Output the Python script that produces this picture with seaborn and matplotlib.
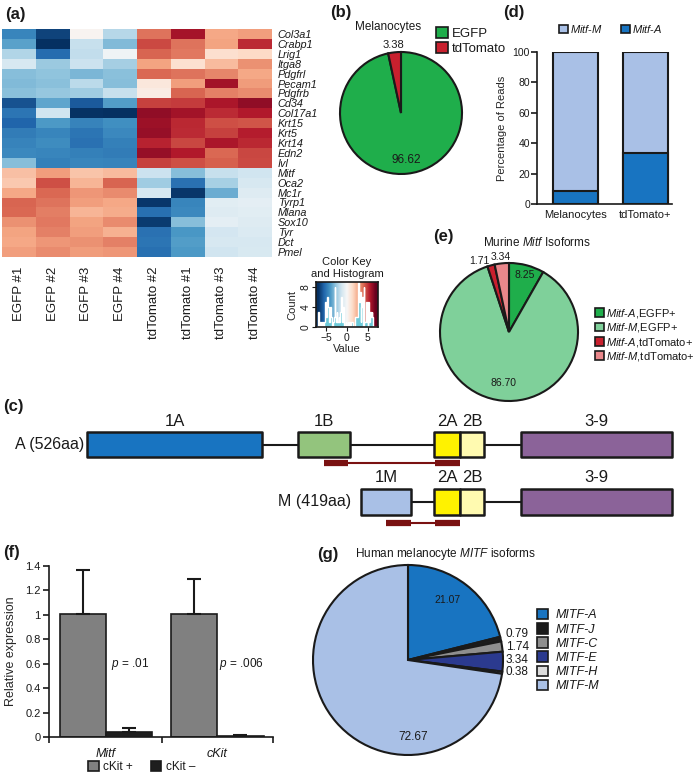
import matplotlib
matplotlib.use("Agg")
import matplotlib.pyplot as plt
import numpy as np
import pandas as pd
import seaborn as sns
from matplotlib.patches import Patch

sns.set_style("ticks")
plt.rcParams['font.family'] = ['Liberation Sans', 'DejaVu Sans']
plt.rcParams['mathtext.fontset'] = 'custom'
plt.rcParams['mathtext.rm'] = 'Liberation Sans'
plt.rcParams['mathtext.it'] = 'Liberation Sans:italic'
plt.rcParams['axes.linewidth'] = 1.2
plt.rcParams['text.color'] = '#1a1a1a'
plt.rcParams['xtick.color'] = '#1a1a1a'
plt.rcParams['ytick.color'] = '#1a1a1a'
plt.rcParams['axes.edgecolor'] = '#1a1a1a'

# ---------------- data ----------------
# (a) heatmap
genes = ["Col3a1", "Crabp1", "Lrig1", "Itga8", "Pdgfrl", "Pecam1", "Pdgfrb",
         "Cd34", "Col17a1", "Krt15", "Krt5", "Krt14", "Edn2", "Ivl",
         "Mitf", "Oca2", "Mc1r", "Tyrp1", "Mlana", "Sox10", "Tyr", "Dct", "Pmel"]
samples = ["EGFP #1", "EGFP #2", "EGFP #3", "EGFP #4",
           "tdTomato #2", "tdTomato #1", "tdTomato #3", "tdTomato #4"]
z_egfp = [
    [-4.6, -6.5, 0.2, -2.0], [-3.8, -7.0, -1.6, -3.1], [-2.1, -5.4, -1.7, -0.3],
    [-1.2, -2.6, -1.5, -2.4], [-3.0, -2.8, -3.2, -2.9], [-3.1, -2.9, -1.9, -3.0],
    [-2.9, -2.7, -2.5, -1.6], [-6.1, -3.7, -5.9, -3.9], [-5.1, -1.4, -6.9, -7.0],
    [-5.6, -4.0, -4.7, -4.3], [-4.9, -4.6, -5.1, -4.5], [-4.7, -4.4, -5.2, -4.8],
    [-4.5, -4.6, -4.8, -4.9], [-3.0, -4.8, -4.6, -4.7],
    [2.1, 2.9, 2.0, 2.2], [1.9, 4.5, 2.4, 4.1], [2.7, 4.0, 3.1, 3.3],
    [4.1, 3.8, 2.9, 2.7], [4.0, 3.6, 2.4, 2.6], [3.2, 3.7, 2.8, 3.3],
    [2.8, 3.5, 2.9, 2.5], [2.7, 3.1, 3.2, 3.5], [2.9, 3.3, 3.0, 3.1],
]
z_tdtomato = [
    [3.8, 5.8, 2.7, 2.9], [4.6, 3.8, 2.8, 5.2], [4.1, 3.7, 1.2, 1.4],
    [2.8, 1.1, 2.2, 3.2], [4.0, 3.8, 3.4, 2.7], [0.8, 2.9, 5.9, 3.0],
    [0.6, 4.1, 3.5, 3.3], [4.8, 4.9, 5.7, 6.2], [6.2, 5.9, 5.2, 5.6],
    [6.0, 5.3, 4.5, 4.4], [6.1, 5.2, 4.8, 5.5], [5.4, 4.7, 5.7, 5.3],
    [6.1, 5.6, 4.0, 4.7], [4.8, 4.5, 4.2, 4.6],
    [-1.5, -3.0, -1.6, -1.4], [-2.5, -5.2, -2.3, -1.2], [-1.2, -6.8, -3.5, -0.9],
    [-6.8, -4.6, -0.8, -0.7], [-5.3, -4.5, -0.9, -0.8], [-6.7, -3.0, -0.7, -0.9],
    [-5.2, -4.1, -1.3, -1.0], [-5.1, -3.9, -1.2, -1.2], [-5.3, -4.0, -1.4, -1.1],
]

# (b) melanocyte pie
mel_labels = ["EGFP", "tdTomato"]
mel_pct = [96.62, 3.38]
mel_colors = ["#1fae4b", "#c9202e"]

# (d) stacked bars
d_groups = ["Melanocytes", "tdTomato+"]
d_mitf_a = [8.69, 33.86]
d_total = [100, 100]

# (e) murine isoforms
e_labels = [r"$\it{Mitf}$-$\it{A}$,EGFP+", r"$\it{Mitf}$-$\it{M}$,EGFP+",
            r"$\it{Mitf}$-$\it{A}$,tdTomato+", r"$\it{Mitf}$-$\it{M}$,tdTomato+"]
e_pct = [8.25, 86.70, 1.71, 3.34]
e_colors = ["#1fae4b", "#7fd09a", "#c9202e", "#e9878b"]

# (c) exon diagram (schematic units)
exons_A = ["1A", "1B", "2A", "2B", "3-9"]
start_A = [0, 211, 347, 373, 434]
end_A = [175, 263, 373, 397, 585]
exons_M = ["1M", "2A", "2B", "3-9"]
start_M = [274, 347, 373, 434]
end_M = [324, 373, 397, 585]
exon_colors = {"1A": "#1874c1", "1B": "#93c47d", "2A": "#fff200",
               "2B": "#fffab0", "3-9": "#8b6399", "1M": "#a9c0e6"}
primer_A = [(237, 261), (348, 373)]
primer_M = [(299, 324), (348, 373)]

# (f) qPCR
f_genes = ["Mitf", "cKit"]
f_pos = [1.01, 1.01]
f_pos_err = [0.36, 0.28]
f_neg = [0.04, 0.01]
f_neg_err = [0.03, 0.004]
f_pvals = ["$\\it{p}$ = .01", "$\\it{p}$ = .006"]

# (g) human isoforms
g_labels = ["MITF-A", "MITF-J", "MITF-C", "MITF-E", "MITF-H", "MITF-M"]
g_pct = [21.07, 0.79, 1.74, 3.34, 0.38, 72.67]
g_colors = ["#1874c1", "#1c1c1c", "#8e8e8e", "#2b3a8f", "#dcdcdc", "#a9c0e6"]

# ---------------- layout helpers ----------------
W, H = 695, 774
fig = plt.figure(figsize=(W / 100, H / 100), dpi=100)


def box(x0, y0, x1, y1):
    return [x0 / W, 1 - y1 / H, (x1 - x0) / W, (y1 - y0) / H]


def ftext(x, y, s, **kw):
    fig.text(x / W, 1 - y / H, s, **kw)


def mid(w, d):
    a = np.deg2rad((w.theta1 + w.theta2) / 2)
    return d * np.cos(a), d * np.sin(a)


edge = '#1a1a1a'

# ---------------- (a) heatmap ----------------
expr = pd.DataFrame(np.hstack([np.array(z_egfp), np.array(z_tdtomato)]),
                    index=genes, columns=samples)
ax_a = fig.add_axes(box(2, 29, 272, 257))
sns.heatmap(expr, cmap="RdBu_r", vmin=-7, vmax=7, cbar=False,
            xticklabels=True, yticklabels=True, ax=ax_a)
ax_a.yaxis.tick_right()
ax_a.set_yticklabels(genes, rotation=0, fontsize=7.8, style='italic')
ax_a.set_xticklabels(samples, rotation=90, fontsize=9.5)
ax_a.tick_params(length=0, pad=4)
ax_a.tick_params(axis='x', pad=7)
ax_a.set_xlabel("")
ax_a.set_ylabel("")
ftext(5, 14, "(a)", fontsize=12, fontweight='bold', va='center')

# colour key + histogram
ax_k = fig.add_axes(box(316, 282, 378, 327))
grad = np.linspace(-7.5, 7.5, 256)[None, :]
ax_k.imshow(grad, cmap="RdBu_r", vmin=-7, vmax=7, aspect='auto',
            extent=(-7.5, 7.5, 0, 9), zorder=0)
ax_k.hist(expr.values.ravel(), bins=np.linspace(-7.5, 7.5, 91),
          histtype='stepfilled', color='#6cc9d8', zorder=2)
ax_k.set_xlim(-7.5, 7.5)
ax_k.set_ylim(0, 9)
ax_k.set_xticks([-5, 0, 5])
ax_k.set_yticks([0, 4, 8])
ax_k.tick_params(labelsize=7.5, length=3, pad=1)
for t in ax_k.get_yticklabels():
    t.set_rotation(90)
    t.set_va('center')
ax_k.set_xlabel("Value", fontsize=8, labelpad=1)
ax_k.set_ylabel("Count", fontsize=8, labelpad=2)
ftext(347, 268, "Color Key\nand Histogram", fontsize=8, ha='center', va='center',
      linespacing=1.3)

# ---------------- (b) pie ----------------
cx, cy, r = 401, 113, 61
ax_b = fig.add_axes(box(cx - r, cy - r, cx + r, cy + r))
wb, _ = ax_b.pie(mel_pct, colors=mel_colors, startangle=90, counterclock=False,
                 wedgeprops=dict(edgecolor=edge, linewidth=1.5, clip_on=False))
ax_b.set_xlim(-1, 1)
ax_b.set_ylim(-1, 1)
x, y = mid(wb[0], 0.78)
ax_b.text(x, y, f"{mel_pct[0]:.2f}", fontsize=8.5, ha='center', va='center')
x, y = mid(wb[1], 1.12)
ax_b.text(x, y, f"{mel_pct[1]:.2f}", fontsize=8, ha='center', va='center')
ftext(330, 12, "(b)", fontsize=12, fontweight='bold', va='center')
ftext(388, 27, "Melanocytes", fontsize=8.5, ha='center', va='center')
hb = [Patch(facecolor=c, edgecolor=edge, linewidth=1.2) for c in mel_colors]
fig.legend(hb, mel_labels, loc='upper left', bbox_to_anchor=(436 / W, 1 - 27 / H),
           frameon=False, fontsize=9.5, handlelength=0.9, handleheight=0.9,
           handletextpad=0.3, labelspacing=0.15, borderpad=0, borderaxespad=0)

# ---------------- (d) stacked bars ----------------
ax_d = fig.add_axes(box(537, 52, 672, 204))
sns.barplot(x=d_groups, y=d_total, color="#a9c0e6", width=0.64, saturation=1,
            edgecolor=edge, linewidth=1.5, ax=ax_d)
sns.barplot(x=d_groups, y=d_mitf_a, color="#1874c1", width=0.64, saturation=1,
            edgecolor=edge, linewidth=1.5, ax=ax_d)
ax_d.set_xlim(-0.55, 1.38)
ax_d.set_ylim(0, 100)
ax_d.set_yticks([0, 20, 40, 60, 80, 100])
ax_d.tick_params(axis='y', labelsize=7.5, length=4, width=1.2, pad=1)
ax_d.tick_params(axis='x', labelsize=8, length=0, pad=4)
ax_d.set_ylabel("Percentage of Reads", fontsize=8, labelpad=4)
sns.despine(ax=ax_d)
for s in ax_d.spines.values():
    s.set_clip_on(False)
ftext(503, 12, "(d)", fontsize=12, fontweight='bold', va='center')
hd = [Patch(facecolor=c, edgecolor=edge, linewidth=1.2) for c in ["#a9c0e6", "#1874c1"]]
fig.legend(hd, [r"$\it{Mitf}$-$\it{M}$", r"$\it{Mitf}$-$\it{A}$"], loc='center left',
           bbox_to_anchor=(559 / W, 1 - 29 / H), ncol=2, frameon=False, fontsize=8,
           handlelength=0.8, handleheight=0.8, handletextpad=0.2, columnspacing=1.6,
           borderpad=0, borderaxespad=0)

# ---------------- (e) pie ----------------
cx, cy, r = 509, 332, 69
ax_e = fig.add_axes(box(cx - r, cy - r, cx + r, cy + r))
we, _ = ax_e.pie(e_pct, colors=e_colors, startangle=90, counterclock=False,
                 wedgeprops=dict(edgecolor=edge, linewidth=1.5, clip_on=False))
ax_e.set_xlim(-1, 1)
ax_e.set_ylim(-1, 1)
x, y = mid(we[0], 0.86)
ax_e.text(x, y, f"{e_pct[0]:.2f}", fontsize=7.5, ha='center', va='center')
x, y = mid(we[1], 0.75)
ax_e.text(x, y, f"{e_pct[1]:.2f}", fontsize=7.5, ha='center', va='center')
x, y = mid(we[2], 1.06)
ax_e.text(x, y, f"{e_pct[2]:.2f}", fontsize=7.5, ha='right', va='center')
x, y = mid(we[3], 1.1)
ax_e.text(x, y, f"{e_pct[3]:.2f}", fontsize=7.5, ha='center', va='center')
ftext(433, 237, "(e)", fontsize=12, fontweight='bold', va='center')
ftext(537, 242, r"Murine $\it{Mitf}$ Isoforms", fontsize=8.5, ha='center', va='center')
he = [Patch(facecolor=c, edgecolor=edge, linewidth=1.2) for c in e_colors]
fig.legend(he, e_labels, loc='upper left', bbox_to_anchor=(595 / W, 1 - 307 / H),
           frameon=False, fontsize=8, handlelength=0.8, handleheight=0.8,
           handletextpad=0.2, labelspacing=0.12, borderpad=0, borderaxespad=0)

# ---------------- (c) exon diagram ----------------
ax_c = fig.add_axes(box(0, 400, 695, 535))
ax_c.set_xlim(-87, 608)
ax_c.set_ylim(-0.574, 1.774)
ax_c.axis('off')
bh = 0.435
for row, names, st, en, primers, pdy, ldy in [
        (1, exons_A, start_A, end_A, primer_A, 0.32, 0.40),
        (0, exons_M, start_M, end_M, primer_M, 0.37, 0.43)]:
    ax_c.hlines(row, st[0], en[-1], color=edge, linewidth=1.5, zorder=1)
    ax_c.broken_barh([(s, e - s) for s, e in zip(st, en)], (row - bh / 2, bh),
                     facecolors=[exon_colors[n] for n in names],
                     edgecolor=edge, linewidth=1.8, zorder=2)
    for n, s, e in zip(names, st, en):
        ax_c.text((s + e) / 2, row + ldy, n, fontsize=12, ha='center', va='center')
    py = row - pdy
    ax_c.hlines(py, primers[0][0], primers[-1][1], color='#7a1212', linewidth=1.5)
    for p0, p1 in primers:
        ax_c.hlines(py, p0, p1, color='#7a1212', linewidth=4.5)
ax_c.text(-3, 1, "A (526aa)", fontsize=11.5, ha='right', va='center')
ax_c.text(start_M[0] - 10, 0, "M (419aa)", fontsize=11.5, ha='right', va='center')
ftext(3, 406, "(c)", fontsize=12, fontweight='bold', va='center')

# ---------------- (f) qPCR bars ----------------
df_f = pd.DataFrame({
    "gene": f_genes * 2,
    "group": ["cKit +"] * 2 + ["cKit \u2013"] * 2,
    "value": f_pos + f_neg,
})
ax_f = fig.add_axes(box(49, 566, 273, 737))
sns.barplot(data=df_f, x="gene", y="value", hue="group",
            palette=["#808080", "#1e1e1e"], width=0.83, errorbar=None, saturation=1,
            edgecolor=edge, linewidth=1.2, legend=False, ax=ax_f)
for cont, errs in zip(ax_f.containers, [f_pos_err, f_neg_err]):
    for bar, e in zip(cont, errs):
        xc = bar.get_x() + bar.get_width() / 2
        ax_f.errorbar(xc, bar.get_height(), yerr=[[0], [e]], fmt='none',
                      ecolor=edge, elinewidth=1.5, capsize=5, capthick=1.5)
ax_f.set_xlim(-0.51, 1.5)
ax_f.set_ylim(0, 1.4)
ax_f.set_yticks(np.arange(0, 1.41, 0.2))
ax_f.set_yticklabels(["0", "0.2", "0.4", "0.6", "0.8", "1", "1.2", "1.4"])
ax_f.set_xticks([0, 1])
ax_f.set_xticklabels(f_genes, style='italic')
ax_f.set_xticks([-0.51, 0.5, 1.5], minor=True)
ax_f.tick_params(axis='x', which='major', length=0, labelsize=9, pad=8)
ax_f.tick_params(axis='x', which='minor', length=4, width=1.2)
ax_f.tick_params(axis='y', labelsize=8, length=4, width=1.2, pad=2)
ax_f.set_xlabel("")
ax_f.set_ylabel("Relative expression", fontsize=9, labelpad=6)
sns.despine(ax=ax_f)
for i, p in enumerate(f_pvals):
    ax_f.text(i + 0.22, 0.6, p, fontsize=8.5, ha='center', va='center')
ftext(3, 553, "(f)", fontsize=12, fontweight='bold', va='center')
hf = [Patch(facecolor=c, edgecolor=edge, linewidth=1.2) for c in ["#808080", "#1e1e1e"]]
fig.legend(hf, ["cKit +", "cKit \u2013"], loc='center left',
           bbox_to_anchor=(88 / W, 1 - 767 / H), ncol=2, frameon=False, fontsize=8.5,
           handlelength=0.9, handleheight=0.9, handletextpad=0.4, columnspacing=1.5,
           borderpad=0, borderaxespad=0)

# ---------------- (g) pie ----------------
cx, cy, r = 408, 660, 95
ax_g = fig.add_axes(box(cx - r, cy - r, cx + r, cy + r))
wg, _ = ax_g.pie(g_pct, colors=g_colors, startangle=90, counterclock=False,
                 wedgeprops=dict(edgecolor=edge, linewidth=1.5, clip_on=False))
ax_g.set_xlim(-1, 1)
ax_g.set_ylim(-1, 1)
x, y = mid(wg[0], 0.8)
ax_g.text(x - 0.08, y, f"{g_pct[0]:.2f}", fontsize=7.5, ha='center', va='center')
ax_g.text(0.05, -0.81, f"{g_pct[5]:.2f}", fontsize=8.5, ha='center', va='center')
for k, i in enumerate(range(1, 5)):
    ax_g.text(1.03, 0.27 - 0.133 * k, f"{g_pct[i]:.2f}", fontsize=8.5,
              ha='left', va='center')
ftext(317, 554, "(g)", fontsize=12, fontweight='bold', va='center')
ftext(355, 554, r"Human melanocyte $\it{MITF}$ isoforms", fontsize=8.5, va='center')
hg = [Patch(facecolor=c, edgecolor=edge, linewidth=1.2) for c in g_colors]
fig.legend(hg, g_labels, loc='upper left', bbox_to_anchor=(537 / W, 1 - 609 / H),
           frameon=False, prop=dict(style='italic', size=9),
           handlelength=0.9, handleheight=0.9, handletextpad=0.6, labelspacing=0.13,
           borderpad=0, borderaxespad=0)

fig.savefig("out.png", dpi=100, facecolor='white')
